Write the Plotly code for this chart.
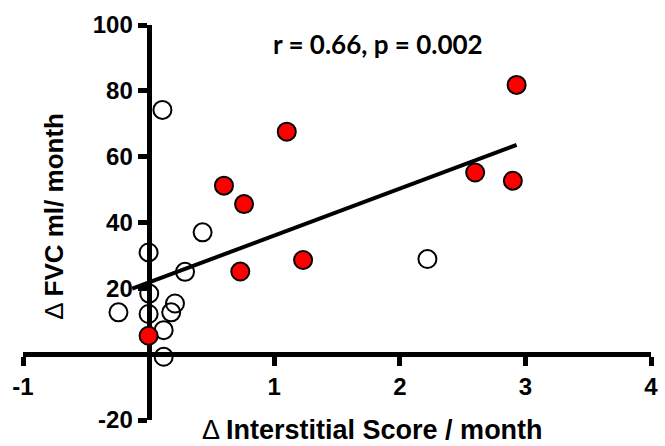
import plotly.graph_objects as go

# Data
open_x = [0.11, 0.43, 0.00, 0.29, 0.005, -0.24, 0.21, 0.18, 0.00, 0.12, 0.12, 2.22]
open_y = [74.2, 37.0, 30.9, 25.0, 18.4, 12.7, 15.4, 12.7, 12.2, 7.3, -0.8, 28.9]

red_x = [0.60, 0.76, 1.10, 0.73, 1.23, 0.00, 2.93, 2.60, 2.90]
red_y = [51.2, 45.6, 67.6, 25.1, 28.6, 5.6, 81.8, 55.2, 52.7]

fit_x = [-0.13, 2.93]
fit_y = [19.9, 63.6]

x_tickvals = [-1, 1, 2, 3, 4]
x_ticktext = ["-1", "1", "2", "3", "4"]
y_tickvals = [-20, 20, 40, 60, 80, 100]
y_ticktext = ["-20", "20", "40", "60", "80", "100"]

stat_text = "r = 0.66, p = 0.002"
x_title = "Δ <b>Interstitial Score / month</b>"
y_title = "Δ <b>FVC ml/ month</b>"

fig = go.Figure()
fig.add_trace(go.Scatter(
    x=open_x, y=open_y, mode="markers",
    marker=dict(size=18, color="rgba(0,0,0,0)", line=dict(color="black", width=2)),
    showlegend=False, hoverinfo="skip"))
fig.add_trace(go.Scatter(
    x=red_x, y=red_y, mode="markers",
    marker=dict(size=18, color="#ff0000", line=dict(color="black", width=2)),
    showlegend=False, hoverinfo="skip"))
fig.add_trace(go.Scatter(
    x=fit_x, y=fit_y, mode="lines",
    line=dict(color="black", width=4),
    showlegend=False, hoverinfo="skip"))

tick_font = dict(family="Liberation Sans, Arial, sans-serif", size=24, color="black", weight="bold")

L, R, T, B = 23, 7, 25, 26
W, H = 665, 446
pw, ph = W - L - R, H - T - B

fig.update_layout(
    width=W, height=H,
    margin=dict(l=L, r=R, t=T, b=B),
    paper_bgcolor="white", plot_bgcolor="white",
    xaxis=dict(
        range=[-1, 4], showgrid=False, zeroline=False,
        showline=True, linecolor="black", linewidth=5,
        anchor="free", position=20 / 120,
        tickmode="array", tickvals=x_tickvals, ticktext=x_ticktext,
        ticks="outside", ticklen=9, tickwidth=5, tickcolor="black",
        tickfont=tick_font, layer="below traces",
        ticklabeloverflow="allow",
    ),
    yaxis=dict(
        range=[-20, 100], showgrid=False, zeroline=False,
        showline=True, linecolor="black", linewidth=5,
        anchor="free", position=1 / 5,
        tickmode="array", tickvals=y_tickvals, ticktext=y_ticktext,
        ticks="outside", ticklen=9, tickwidth=5, tickcolor="black",
        tickfont=tick_font, layer="below traces",
        ticklabeloverflow="allow",
    ),
    annotations=[
        dict(text=stat_text, x=1.83, y=94.2, xref="x", yref="y",
             showarrow=False, font=dict(family="Lato, sans-serif", size=26, color="black", weight="bold"),
             xanchor="center", yanchor="middle"),
        dict(text=x_title, x=(376 - L) / pw, y=(H - T - 431) / ph, xref="paper", yref="paper",
             showarrow=False, font=dict(family="Liberation Sans, Arial, sans-serif", size=27, color="black"),
             xanchor="center", yanchor="middle"),
        dict(text=y_title, x=(54 - L) / pw, y=(H - B - 216) / ph, xref="paper", yref="paper",
             xanchor="center", yanchor="middle", textangle=-90,
             showarrow=False, font=dict(family="Liberation Sans, Arial, sans-serif", size=26, color="black")),
    ],
)

fig.write_html("out.html")
